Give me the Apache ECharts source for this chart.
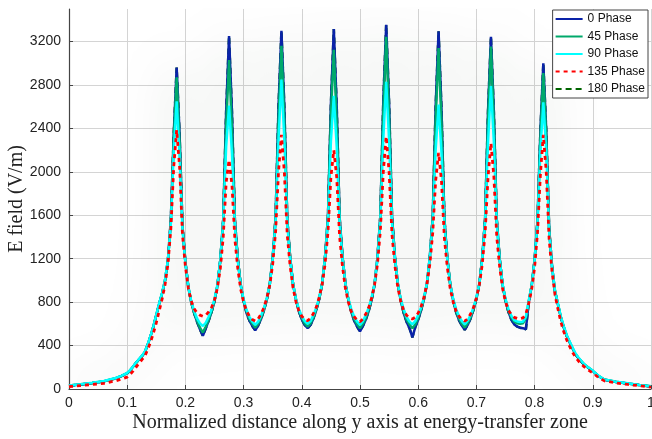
<!DOCTYPE html>
<html>
<head>
<meta charset="utf-8">
<script src="https://cdn.jsdelivr.net/npm/echarts@6/dist/echarts.min.js"></script>
<style>
  html, body { margin: 0; padding: 0; background: #fff; }
</style>
</head>
<body>
<div id="EFieldChart" style="width: 652px; height: 439px;"></div>
<script>
// normalized distance (shared by all phases)
const xs = [
  0, 0.02, 0.04, 0.06, 0.08, 0.09,
  0.1, 0.105, 0.11, 0.115, 0.12, 0.125, 0.13, 0.135, 0.14, 0.145, 0.15, 0.155, 0.16, 0.165, 0.17, 0.175, 0.18,
  0.185, 0.19, 0.195, 0.2, 0.205, 0.21, 0.215, 0.22, 0.225, 0.23, 0.235, 0.24, 0.245, 0.25, 0.255, 0.26, 0.265, 0.27,
  0.275, 0.28, 0.285, 0.29, 0.295, 0.3, 0.305, 0.31, 0.315, 0.32, 0.325, 0.33, 0.335, 0.34, 0.345, 0.35, 0.355, 0.36,
  0.365, 0.37, 0.375, 0.38, 0.385, 0.39, 0.395, 0.4, 0.405, 0.41, 0.415, 0.42, 0.425, 0.43, 0.435, 0.44, 0.445, 0.45,
  0.455, 0.46, 0.465, 0.47, 0.475, 0.48, 0.485, 0.49, 0.495, 0.5, 0.505, 0.51, 0.515, 0.52, 0.525, 0.53, 0.535, 0.54,
  0.545, 0.55, 0.555, 0.56, 0.565, 0.57, 0.575, 0.58, 0.585, 0.59, 0.595, 0.6, 0.605, 0.61, 0.615, 0.62, 0.625, 0.63,
  0.635, 0.64, 0.645, 0.65, 0.655, 0.66, 0.665, 0.67, 0.675, 0.68, 0.685, 0.69, 0.695, 0.7, 0.705, 0.71, 0.715, 0.72,
  0.725, 0.73, 0.735, 0.74, 0.745, 0.75, 0.755, 0.76, 0.765, 0.77, 0.775, 0.78, 0.785, 0.79, 0.795, 0.8, 0.805, 0.81,
  0.815, 0.82, 0.825, 0.83, 0.835, 0.84, 0.845, 0.85, 0.855, 0.86, 0.865, 0.87, 0.875, 0.88, 0.885, 0.89, 0.895, 0.9,
  0.91, 0.92, 0.94, 0.96, 0.98, 1
];

// E field (V/m) per phase
const phase0 = [
  30, 42, 55, 70, 98, 118,
  145, 170, 205, 240, 270, 300, 335, 405, 485, 575, 680, 785, 880, 1000, 1190, 1560, 2350,
  2960, 2350, 1500, 1170, 940, 800, 700, 620, 550, 490, 560, 630, 710, 810, 950, 1190, 1560, 2550,
  3250, 2550, 1560, 1200, 960, 810, 700, 630, 580, 540, 585, 645, 725, 825, 965, 1210, 1580, 2600,
  3300, 2600, 1570, 1210, 965, 820, 715, 640, 590, 560, 590, 650, 730, 830, 970, 1220, 1590, 2620,
  3315, 2600, 1580, 1215, 970, 820, 710, 630, 575, 530, 580, 640, 720, 820, 960, 1210, 1600, 2640,
  3355, 2630, 1590, 1220, 970, 815, 700, 620, 560, 475, 570, 640, 725, 830, 970, 1220, 1590, 2600,
  3295, 2580, 1570, 1205, 965, 820, 710, 635, 585, 545, 590, 650, 730, 830, 965, 1205, 1570, 2560,
  3245, 2550, 1560, 1200, 960, 815, 710, 640, 595, 575, 565, 560, 550, 800, 950, 1190, 1550, 2380,
  3000, 2380, 1480, 1130, 900, 780, 660, 570, 490, 430, 375, 320, 285, 255, 225, 205, 185, 165,
  118, 85, 65, 50, 36, 24
];
const phase45 = [
  32, 43, 56, 72, 100, 120,
  147, 172, 205, 240, 272, 302, 338, 405, 485, 575, 680, 785, 880, 1000, 1185, 1540, 2300,
  2870, 2280, 1490, 1165, 940, 800, 705, 630, 565, 520, 575, 640, 715, 815, 950, 1185, 1550, 2420,
  3030, 2400, 1540, 1195, 960, 815, 715, 645, 600, 565, 600, 655, 730, 830, 965, 1205, 1570, 2480,
  3160, 2470, 1555, 1205, 965, 825, 725, 655, 605, 575, 605, 660, 735, 835, 970, 1215, 1580, 2520,
  3125, 2450, 1560, 1210, 968, 825, 720, 645, 595, 560, 600, 655, 730, 830, 965, 1205, 1585, 2540,
  3245, 2520, 1570, 1215, 970, 820, 715, 640, 595, 560, 595, 655, 735, 835, 970, 1215, 1575, 2480,
  3140, 2450, 1555, 1200, 965, 825, 720, 650, 600, 565, 605, 660, 735, 835, 965, 1200, 1560, 2480,
  3155, 2460, 1550, 1195, 960, 820, 720, 660, 620, 605, 600, 605, 650, 810, 955, 1190, 1545, 2320,
  2910, 2320, 1470, 1125, 905, 785, 665, 575, 495, 435, 380, 325, 290, 258, 228, 207, 187, 167,
  120, 87, 66, 51, 37, 25
];
const phase90 = [
  33, 44, 57, 73, 101, 121,
  148, 173, 207, 242, 274, 305, 340, 408, 488, 578, 684, 790, 885, 1005, 1190, 1520, 2200,
  2650, 2150, 1470, 1160, 945, 810, 720, 650, 605, 580, 610, 665, 735, 830, 960, 1190, 1530, 2230,
  2610, 2170, 1500, 1180, 960, 825, 730, 665, 620, 590, 620, 675, 745, 840, 970, 1200, 1545, 2300,
  2850, 2300, 1520, 1195, 965, 830, 735, 670, 625, 600, 625, 680, 750, 845, 975, 1210, 1550, 2280,
  2700, 2230, 1525, 1200, 968, 832, 735, 665, 620, 590, 625, 680, 750, 845, 970, 1200, 1555, 2300,
  2830, 2290, 1530, 1205, 970, 830, 735, 665, 620, 595, 625, 680, 750, 845, 975, 1210, 1545, 2200,
  2620, 2180, 1515, 1195, 965, 832, 738, 670, 625, 595, 628, 680, 750, 845, 970, 1195, 1540, 2270,
  2790, 2270, 1520, 1190, 962, 830, 738, 675, 635, 622, 618, 620, 665, 815, 955, 1185, 1530, 2200,
  2640, 2200, 1450, 1120, 905, 790, 670, 580, 500, 440, 385, 330, 292, 260, 230, 208, 188, 168,
  121, 88, 67, 52, 38, 26
];
const phase135 = [
  22, 32, 42, 52, 75, 92,
  110, 135, 165, 200, 235, 268, 300, 360, 430, 515, 610, 720, 830, 960, 1150, 1480, 2050,
  2385, 2050, 1420, 1130, 930, 810, 740, 700, 680, 670, 680, 710, 750, 820, 930, 1110, 1400, 1900,
  2110, 1880, 1380, 1110, 920, 800, 720, 670, 640, 625, 645, 690, 750, 840, 960, 1150, 1450, 2000,
  2340, 2000, 1420, 1130, 930, 805, 720, 670, 640, 630, 650, 695, 755, 845, 965, 1150, 1450, 1950,
  2200, 1950, 1400, 1125, 925, 800, 715, 665, 635, 620, 645, 690, 750, 840, 960, 1150, 1460, 2000,
  2325, 2000, 1420, 1135, 935, 810, 725, 680, 655, 645, 660, 700, 760, 845, 965, 1150, 1440, 1920,
  2175, 1920, 1390, 1120, 925, 805, 720, 670, 640, 625, 645, 690, 750, 840, 960, 1145, 1440, 1950,
  2265, 1960, 1400, 1125, 925, 805, 725, 685, 660, 650, 648, 655, 690, 790, 920, 1120, 1440, 1980,
  2340, 2000, 1380, 1080, 870, 740, 620, 530, 455, 395, 340, 295, 260, 232, 205, 185, 165, 148,
  105, 75, 55, 42, 30, 18
];
// 180 phase lies on top of 0 phase
const phase180 = phase0;

const xTicks = [0, 0.1, 0.2, 0.3, 0.4, 0.5, 0.6, 0.7, 0.8, 0.9, 1];

const pairs = ys => xs.map((x, i) => [x, ys[i]]);

const chart = echarts.init(document.getElementById('EFieldChart'));

function lineSeries(name, data, color, extra) {
  return Object.assign({
    name: name,
    type: 'line',
    symbol: 'none',
    data: pairs(data),
    lineStyle: { color: color, width: 2.5 },
    itemStyle: { color: color }
  }, extra || {});
}

const option = {
  animation: false,
  backgroundColor: '#fff',
  grid: { left: 69, right: 1, top: 9, bottom: 50, outerBoundsMode: 'none' },
  legend: {
    orient: 'vertical',
    right: 4,
    top: 10,
    data: ['0 Phase', '45 Phase', '90 Phase', '135 Phase', '180 Phase'],
    backgroundColor: '#fff',
    borderColor: '#444',
    borderWidth: 1,
    borderRadius: 0,
    padding: [3, 3, 3, 2],
    itemGap: 5.5,
    itemWidth: 27,
    itemHeight: 12,
    itemStyle: { opacity: 0 },
    textStyle: { fontFamily: 'Liberation Sans', fontSize: 12, color: '#111' }
  },
  xAxis: {
    type: 'value',
    min: 0,
    max: 1,
    interval: 0.1,
    name: 'Normalized distance along y axis at energy-transfer zone',
    nameLocation: 'middle',
    nameGap: 24,
    nameMoveOverlap: false,
    nameTextStyle: { fontFamily: 'Liberation Serif', fontSize: 20, color: '#222' },
    axisLine: { lineStyle: { color: '#444', width: 1.2 } },
    axisTick: { inside: true, length: 4, lineStyle: { color: '#444' } },
    axisLabel: {
      fontFamily: 'Liberation Sans', fontSize: 14, color: '#222', margin: 7,
      formatter: v => (xTicks.indexOf(+v.toFixed(1)) >= 0 ? String(+v.toFixed(1)) : '')
    },
    splitLine: { show: true, lineStyle: { color: '#d4d4d4', width: 1 } }
  },
  yAxis: {
    type: 'value',
    min: 0,
    max: 3500,
    interval: 400,
    name: 'E field (V/m)',
    nameLocation: 'middle',
    nameGap: 42,
    nameMoveOverlap: false,
    nameTextStyle: { fontFamily: 'Liberation Serif', fontSize: 20, color: '#222' },
    axisLine: { show: true, lineStyle: { color: '#444', width: 1.2 } },
    axisTick: { show: true, inside: true, length: 4, lineStyle: { color: '#444' } },
    axisLabel: {
      fontFamily: 'Liberation Sans', fontSize: 14, color: '#222', margin: 8, showMaxLabel: false,
      formatter: v => String(v)
    },
    splitLine: { show: true, showMaxLine: false, lineStyle: { color: '#d4d4d4', width: 1 } }
  },
  series: [
    lineSeries('180 Phase', phase180, '#006400', {
      lineStyle: {
        color: '#006400', width: 2.5, type: [6, 4],
        shadowColor: 'rgba(20, 50, 20, 0.55)', shadowBlur: 45
      }
    }),
    lineSeries('0 Phase', phase0, '#0a22a8'),
    lineSeries('45 Phase', phase45, '#00a96b'),
    lineSeries('90 Phase', phase90, '#00ffff'),
    lineSeries('135 Phase', phase135, '#ff0000', {
      lineStyle: { color: '#ff0000', width: 2.8, type: [4, 4], cap: 'butt' }
    })
  ]
};

chart.setOption(option);
</script>
</body>
</html>
